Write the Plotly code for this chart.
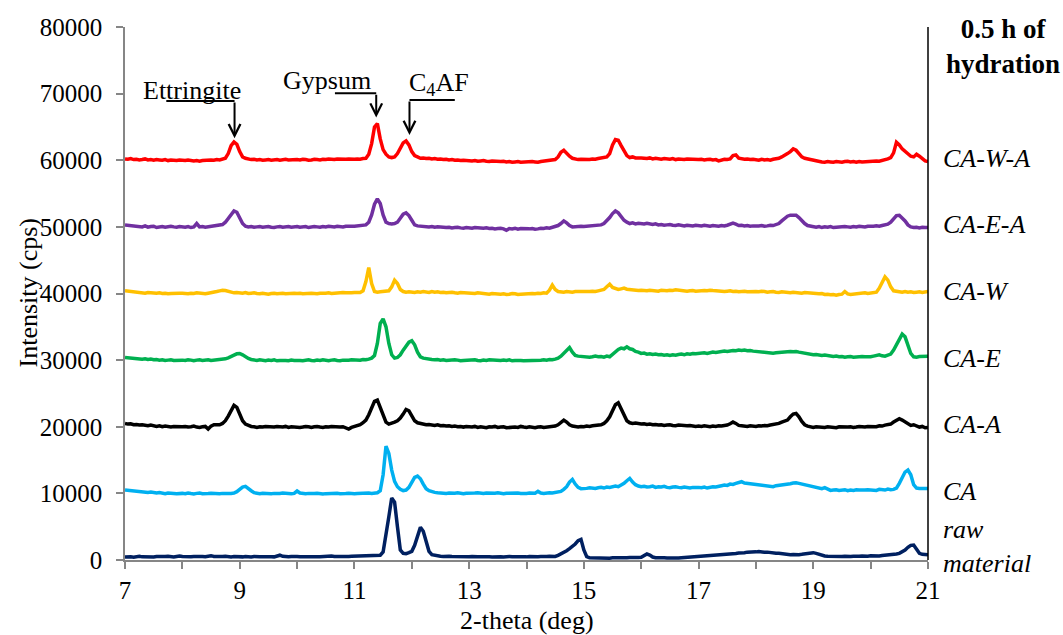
import plotly.graph_objects as go

# 2-theta scan: 7.00 to 21.00 deg, 0.05 deg step (one printed row per degree)
TWO_THETA_START = 7.0
TWO_THETA_STEP = 0.05
N_POINTS = 281

raw_material = [
    450, 520, 480, 430, 500, 560, 470, 440, 510, 480, 450, 530, 490, 460, 520, 560, 500, 470, 540, 600,
    520, 480, 450, 500, 540, 490, 460, 520, 480, 600, 650, 540, 500, 470, 520, 560, 490, 460, 520, 480,
    510, 470, 540, 490, 460, 530, 560, 500, 480, 520, 550, 490, 470, 640, 720, 560, 500, 480, 530, 560,
    510, 480, 540, 500, 470, 520, 560, 500, 480, 530, 490, 560, 600, 520, 500, 560, 590, 530, 510, 560,
    580, 540, 600, 650, 620, 580, 640, 700, 680, 720, 1200, 3500, 6500, 9300, 8700, 5000, 1500, 1000, 950, 1100,
    1300, 2200, 3800, 4900, 4300, 2800, 1300, 800, 700, 620, 580, 540, 600, 560, 520, 500, 550, 520, 480, 510,
    480, 520, 560, 500, 470, 510, 540, 490, 460, 500, 530, 480, 450, 510, 540, 480, 460, 500, 520, 490,
    470, 510, 480, 450, 500, 530, 490, 520, 560, 500, 540, 700, 900, 1100, 1400, 1700, 2000, 2400, 2900, 3100,
    1500, 500, 320, 300, 350, 320, 300, 340, 310, 280, 320, 300, 350, 330, 310, 340, 380, 350, 330, 370,
    400, 650, 900, 750, 450, 350, 300, 280, 320, 300, 280, 310, 330, 300, 350, 380, 360, 420, 450, 480,
    520, 560, 600, 580, 640, 700, 680, 740, 800, 780, 860, 920, 900, 980, 1050, 1020, 1100, 1180, 1150, 1250,
    1220, 1280, 1200, 1150, 1180, 1100, 1050, 1000, 1020, 950, 900, 850, 800, 820, 760, 800, 850, 900, 950, 1050,
    1100, 1000, 850, 700, 600, 550, 520, 560, 500, 480, 520, 560, 500, 540, 580, 520, 560, 600, 550, 580,
    620, 580, 640, 600, 680, 720, 700, 760, 820, 900, 1000, 1200, 1500, 1900, 2200, 2250, 1600, 1000, 850, 800,
    780,
]

ca = [
    10500, 10450, 10380, 10420, 10300, 10250, 10300, 10180, 10150, 10200, 10100, 10050, 10120, 10000, 9950, 10050, 10080, 9980, 9950, 10020,
    10000, 9950, 10050, 9980, 9920, 10000, 10050, 9950, 9900, 9980, 10020, 9960, 9900, 9950, 10000, 9970, 10020, 10000, 10050, 10250,
    10600, 10950, 11050, 10800, 10400, 10100, 10000, 9950, 10020, 9980, 9900, 9950, 10000, 9930, 9970, 10050, 9980, 9920, 9960, 10000,
    10350, 10050, 9980, 9950, 10000, 9920, 9970, 10020, 9950, 9900, 9960, 10000, 9940, 9980, 10020, 9960, 9920, 9980, 10030, 9970,
    9950, 9990, 10030, 9960, 10000, 10050, 10000, 10080, 10100, 10400, 12800, 17100, 16000, 13500, 11800, 11000, 10600, 10400, 10500, 10900,
    11600, 12400, 12600, 12200, 11400, 10700, 10400, 10250, 10150, 10100, 10050, 10100, 10000, 10050, 9980, 10020, 10080, 9990, 9950, 10030,
    10000, 9950, 10050, 10100, 10020, 9980, 10050, 10000, 9960, 10030, 10080, 10000, 9950, 10020, 10050, 9980, 10000, 10060, 10000, 9950,
    10000, 10050, 9980, 10020, 10300, 10050, 10000, 10080, 10100, 10050, 10150, 10200, 10300, 10600, 11000, 11700, 12100, 11400, 10900, 10700,
    10700, 10750, 10850, 10800, 10750, 10850, 10900, 10800, 10950, 10900, 11000, 11100, 11000, 11200, 11500, 11900, 12250, 11700, 11300, 11100,
    11000, 11050, 10950, 11000, 11100, 10900, 11000, 10950, 11050, 10900, 10850, 10950, 11000, 10900, 10850, 10950, 10900, 10800, 10900, 10950,
    10900, 10850, 10950, 10800, 10900, 11000, 10950, 11100, 11150, 11250, 11200, 11400, 11350, 11500, 11650, 11750, 11550, 11500, 11400, 11300,
    11300, 11200, 11150, 11100, 11050, 11100, 11000, 11150, 11200, 11300, 11250, 11400, 11450, 11550, 11600, 11500, 11400, 11300, 11200, 11100,
    11000, 10900, 10800, 10700, 10850, 10600, 10450, 10500, 10550, 10450, 10500, 10550, 10400, 10500, 10450, 10550, 10500, 10450, 10500, 10550,
    10500, 10550, 10450, 10600, 10550, 10500, 10650, 10550, 10600, 10800, 11500, 12500, 13200, 13500, 12800, 11300, 10800, 10750, 10800, 10750,
    10750,
]

ca_a = [
    20500, 20400, 20450, 20300, 20350, 20250, 20300, 20200, 20150, 20250, 20100, 20050, 20150, 20000, 20100, 20050, 19950, 20050, 20000, 19950,
    20000, 20050, 19950, 20000, 20100, 19950, 19900, 20000, 20050, 19650, 20100, 20300, 20350, 20300, 20500, 20900, 21600, 22500, 23200, 22900,
    21800, 20900, 20400, 20200, 20050, 20000, 19900, 20000, 19950, 20050, 20000, 19900, 19950, 20050, 20000, 19950, 20050, 19900, 20000, 19950,
    20000, 19900, 19950, 20050, 20000, 19900, 20000, 20050, 19950, 19900, 20000, 19950, 20050, 20000, 19900, 19950, 20000, 19850, 19650, 19900,
    20050, 20150, 20300, 20600, 21000, 21800, 22800, 23800, 24000, 23000, 21700, 20700, 20400, 20500, 20700, 20900, 21300, 21900, 22600, 22400,
    21500, 20900, 20600, 20500, 20400, 20300, 20350, 20250, 20200, 20300, 20150, 20200, 20100, 20150, 20050, 20100, 20000, 20050, 19950, 20050,
    20000, 19950, 20050, 19900, 20000, 19950, 19850, 20000, 19950, 20050, 19900, 19950, 20000, 19850, 19900, 20000, 19950, 19900, 20050, 19950,
    19900, 20000, 19950, 19850, 19950, 20000, 19900, 19950, 20000, 19950, 20100, 20300, 20600, 21000, 20700, 20300, 20100, 20000, 19950, 20050,
    20000, 20100, 20050, 20150, 20200, 20250, 20300, 20500, 20900, 21500, 22300, 23300, 23600, 22600, 21600, 20900, 20600, 20500, 20550, 20450,
    20400, 20450, 20350, 20400, 20300, 20350, 20250, 20300, 20200, 20250, 20300, 20200, 20150, 20250, 20200, 20100, 20150, 20200, 20100, 20050,
    20100, 20050, 20150, 20100, 20000, 20100, 20050, 20150, 20100, 20200, 20250, 20450, 20700, 20500, 20200, 20150, 20100, 20050, 20150, 20100,
    20050, 20150, 20100, 20200, 20150, 20250, 20300, 20400, 20500, 20700, 20800, 21000, 21500, 21900, 22000, 21500, 20800, 20300, 20100, 19950,
    19900, 20000, 19950, 19850, 19900, 20000, 19950, 19900, 19850, 20000, 19950, 19900, 19950, 20000, 19900, 19950, 20050, 20000, 19950, 20050,
    20050, 20100, 20000, 20150, 20100, 20250, 20300, 20400, 20700, 21000, 21200, 21000, 20700, 20400, 20200, 20300, 20100, 19950, 20050, 19850,
    19900,
]

ca_e = [
    30400, 30350, 30300, 30250, 30300, 30200, 30150, 30200, 30100, 30150, 30050, 30100, 30000, 30050, 29950, 30000, 30050, 29950, 30000, 30050,
    30000, 29950, 30050, 30000, 29900, 30000, 30050, 29950, 30000, 30050, 29950, 30000, 30100, 30050, 30150, 30200, 30350, 30500, 30750, 30950,
    31000, 30800, 30500, 30250, 30100, 30000, 29950, 30050, 29950, 29900, 30000, 29950, 30050, 29900, 29950, 30000, 29950, 29900, 30000, 29950,
    30000, 29950, 29900, 30000, 30050, 29950, 29900, 30000, 29950, 30050, 29950, 29900, 30000, 30050, 29950, 29900, 30000, 29950, 30000, 30050,
    30000, 30050, 30000, 30100, 30050, 30150, 30300, 30700, 32500, 35500, 36200, 35000, 32500, 30800, 30300, 30400, 30800, 31500, 32200, 32700,
    32900, 32300, 31200, 30500, 30300, 30200, 30150, 30100, 30050, 30100, 30000, 30050, 29950, 30000, 29950, 30050, 30000, 29900, 29950, 30000,
    29950, 30000, 30050, 29950, 29900, 30000, 29950, 30050, 30000, 29950, 29900, 29950, 30000, 29950, 30050, 29900, 29950, 30000, 29950, 29900,
    29900, 29950, 30000, 29950, 29900, 30000, 30050, 30000, 30100, 30050, 30150, 30300, 30600, 31100, 31500, 31900, 31200, 30700, 30600, 30550,
    30500, 30550, 30450, 30500, 30600, 30500, 30550, 30450, 30600, 30500, 30900, 31300, 31600, 31800, 31700, 32000, 31700, 31600, 31300, 31200,
    31000, 31050, 30900, 30950, 30850, 30900, 30800, 30850, 30750, 30800, 30700, 30800, 30750, 30850, 30900, 30800, 30950, 30900, 31000, 30950,
    31000, 31050, 31100, 31000, 31150, 31200, 31150, 31250, 31300, 31350, 31300, 31400, 31450, 31400, 31500, 31450, 31500, 31400, 31450, 31350,
    31300, 31250, 31200, 31150, 31100, 31150, 31050, 31100, 31150, 31200, 31150, 31250, 31300, 31250, 31300, 31200, 31100, 31000, 30950, 30900,
    30800, 30850, 30750, 30700, 30750, 30650, 30600, 30550, 30600, 30500, 30550, 30450, 30500, 30550, 30450, 30500, 30600, 30550, 30500, 30450,
    30500, 30600, 30700, 30800, 30650, 30600, 30750, 30900, 31500, 32400, 33300, 33900, 33500, 32300, 31000, 30500, 30450, 30550, 30600, 30550,
    30600,
]

ca_w = [
    40400, 40350, 40300, 40250, 40150, 40200, 40100, 40050, 40150, 40100, 40000, 40050, 40100, 40000, 40050, 39950, 40000, 40050, 40000, 40050,
    40050, 40000, 39950, 40050, 40000, 40100, 40050, 40000, 39950, 40050, 40100, 40200, 40300, 40400, 40500, 40450, 40300, 40200, 40100, 40150,
    40100, 40050, 40150, 40000, 40050, 40100, 40000, 39950, 40050, 40000, 39900, 40000, 40050, 39950, 40000, 40050, 39950, 40000, 40100, 40050,
    40000, 40050, 39950, 40000, 40100, 40050, 40000, 39950, 40050, 40000, 40050, 40100, 40000, 40050, 40100, 40050, 40150, 40100, 40050, 40100,
    40150, 40200, 40150, 40400, 41800, 43900, 41500, 40300, 40200, 40250, 40300, 40250, 40400, 41000, 42000, 41500, 40600, 40300, 40200, 40250,
    40200, 40150, 40250, 40200, 40300, 40250, 40150, 40300, 40200, 40250, 40150, 40200, 40100, 40150, 40200, 40100, 40050, 40150, 40100, 40050,
    40100, 40050, 40000, 40100, 40050, 39950, 40000, 39900, 40000, 39950, 39850, 39900, 39950, 39850, 39900, 40000, 39950, 39850, 39900, 39950,
    39900, 39950, 40000, 39950, 40050, 40000, 40100, 40050, 40500, 41250, 40600, 40300, 40250, 40200, 40300, 40250, 40200, 40300, 40250, 40300,
    40300, 40250, 40300, 40350, 40300, 40400, 40500, 40600, 41000, 41400, 40900, 40700, 40600, 40700, 40800, 40650, 40600, 40500, 40550, 40450,
    40500, 40450, 40400, 40500, 40450, 40400, 40350, 40500, 40450, 40400, 40500, 40450, 40550, 40500, 40400, 40450, 40350, 40400, 40450, 40350,
    40400, 40350, 40450, 40400, 40500, 40450, 40400, 40350, 40400, 40300, 40350, 40400, 40300, 40350, 40250, 40300, 40350, 40250, 40300, 40350,
    40300, 40250, 40350, 40300, 40200, 40250, 40300, 40200, 40150, 40250, 40200, 40150, 40100, 40200, 40150, 40100, 40050, 40150, 40100, 40050,
    40100, 40000, 39950, 40000, 39850, 39900, 39800, 39850, 39750, 39850, 39900, 40300, 39950, 39850, 39900, 40000, 39950, 40050, 40100, 40000,
    40100, 40150, 40200, 40800, 41800, 42500, 42000, 41000, 40400, 40300, 40250, 40200, 40300, 40200, 40250, 40150, 40200, 40250, 40150, 40250,
    40300,
]

ca_e_a = [
    50300, 50250, 50150, 50200, 50050, 50100, 50000, 50150, 49950, 50050, 50100, 49900, 50000, 50050, 49950, 50000, 50100, 50000, 49950, 50050,
    50000, 49950, 50050, 49900, 50000, 50500, 50000, 50050, 49950, 50000, 50050, 50100, 50200, 50200, 50350, 50700, 51200, 51900, 52400, 52200,
    51300, 50500, 50100, 50000, 50050, 49950, 50000, 50050, 49950, 50000, 50050, 49950, 49900, 50000, 50050, 49950, 50000, 50050, 49950, 50000,
    50050, 49950, 50000, 50050, 49900, 50000, 50050, 50000, 49950, 50050, 50000, 50100, 50050, 50000, 50100, 50050, 50000, 50100, 50050, 50100,
    50100, 50150, 50100, 50200, 50300, 50700, 51800, 53400, 54200, 53500, 51800, 50700, 50500, 50450, 50500, 50700, 51300, 51900, 52100, 51700,
    51000, 50300, 50150, 50100, 50050, 50100, 50000, 50050, 49950, 50000, 49950, 50000, 49900, 49950, 49850, 49900, 49950, 49850, 49800, 49900,
    49850, 49800, 49900, 49850, 49750, 49800, 49850, 49750, 49800, 49700, 49750, 49800, 49700, 49500, 49750, 49700, 49800, 49650, 49750, 49700,
    49650, 49700, 49750, 49650, 49700, 49800, 49750, 49850, 49800, 49900, 50000, 50200, 50500, 50900, 50600, 50200, 50000, 50050, 50000, 50100,
    50050, 50100, 50150, 50100, 50200, 50250, 50300, 50500, 50900, 51400, 52000, 52400, 52100, 51500, 51000, 50700, 50500, 50600, 50450, 50550,
    50500, 50450, 50550, 50400, 50350, 50450, 50300, 50350, 50250, 50300, 50350, 50250, 50200, 50300, 50250, 50150, 50250, 50200, 50150, 50250,
    50200, 50150, 50250, 50200, 50100, 50200, 50150, 50100, 50200, 50150, 50250, 50400, 50550, 50400, 50200, 50250, 50150, 50200, 50100, 50150,
    50100, 50150, 50200, 50100, 50150, 50250, 50200, 50300, 50500, 50900, 51300, 51600, 51750, 51700, 51750, 51400, 50900, 50500, 50200, 50100,
    50000, 49950, 50050, 49900, 50000, 49950, 50050, 49900, 49950, 50000, 49950, 50050, 50000, 49950, 50050, 50000, 50100, 50050, 50000, 50100,
    50050, 50100, 50150, 50100, 50200, 50250, 50400, 50700, 51200, 51700, 51750, 51400, 50900, 50300, 50000, 49900, 49950, 49850, 49950, 49900,
    49900,
]

ca_w_a = [
    60200, 60150, 60250, 60100, 60150, 60050, 60100, 60200, 60050, 60100, 60000, 60100, 60050, 60000, 60100, 59950, 60050, 60000, 59950, 60050,
    60000, 59950, 60050, 59950, 59900, 59950, 59850, 59950, 60000, 59950, 60050, 60000, 60100, 60050, 60150, 60300, 61000, 62200, 62750, 62400,
    61300, 60500, 60300, 60200, 60100, 60150, 60050, 60100, 60000, 60050, 60100, 60000, 60050, 60100, 60000, 60050, 60150, 60050, 60100, 60050,
    60100, 60050, 60150, 60100, 60000, 60050, 60150, 60100, 60050, 60150, 60100, 60200, 60150, 60100, 60200, 60150, 60100, 60150, 60200, 60150,
    60150, 60200, 60150, 60250, 60300, 60900, 62500, 65000, 65500, 63200, 61600, 60900, 60500, 60400, 60500, 61000, 61800, 62600, 62900, 62300,
    61300, 60700, 60500, 60300, 60350, 60250, 60300, 60200, 60250, 60150, 60200, 60100, 60150, 60050, 60100, 60000, 60050, 59950, 60000, 59950,
    60000, 59900, 59950, 59850, 59900, 59950, 59850, 59800, 59900, 59850, 59750, 59800, 59850, 59750, 59800, 59700, 59750, 59800, 59700, 59750,
    59700, 59750, 59800, 59750, 59700, 59800, 59850, 59900, 59950, 60050, 60100, 60500, 61200, 61500, 61000, 60600, 60300, 60200, 60100, 60150,
    60100, 60150, 60100, 60200, 60150, 60250, 60300, 60400, 60500, 61000, 62300, 63100, 63000, 62200, 61300, 60700, 60400, 60500, 60350, 60400,
    60350, 60300, 60250, 60350, 60200, 60300, 60250, 60150, 60250, 60200, 60150, 60250, 60100, 60200, 60150, 60100, 60200, 60150, 60100, 60150,
    60100, 60150, 60050, 60100, 60150, 60050, 60100, 59900, 60000, 60150, 60100, 60200, 60700, 60800, 60300, 60200, 60150, 60200, 60100, 60150,
    60100, 60000, 60150, 60050, 60100, 60000, 60150, 60200, 60300, 60500, 60700, 61000, 61300, 61700, 61500, 60900, 60500, 60300, 60200, 60050,
    60000, 59900, 59800, 59750, 59700, 59800, 59750, 59700, 59800, 59750, 59700, 59800, 59850, 59750, 59800, 59700, 59800, 59750, 59800, 59850,
    59800, 59850, 59900, 59850, 59950, 60050, 60200, 60400, 61100, 62700, 62300, 61700, 61300, 61000, 60600, 60500, 60900, 60600, 60200, 59900,
    59800,
]

series_names = ["raw material", "CA", "CA-A", "CA-E", "CA-W", "CA-E-A", "CA-W-A"]
series_values = [raw_material, ca, ca_a, ca_e, ca_w, ca_e_a, ca_w_a]
series_colors = ["#002060", "#00B0F0", "#000000", "#00B050", "#FFC000", "#7030A0", "#FF0000"]
# vertical position of each right-hand label (cps)
label_levels = [2000, 10300, 20300, 30300, 40300, 50300, 60300]

for name, vals in zip(series_names, series_values):
    if len(vals) != N_POINTS:
        raise ValueError(f"{name}: {len(vals)} points, expected {N_POINTS}")

two_theta = [round(TWO_THETA_START + TWO_THETA_STEP * i, 2) for i in range(N_POINTS)]

# peak markers: label, peak position, tip height, bar start/end, bar height, text anchor
peak_labels = ["Ettringite", "Gypsum", "C<sub>4</sub>AF"]
peak_positions = [8.91, 11.38, 11.96]
peak_tips = [63300, 66400, 63800]
bar_from = [7.72, 10.66, 11.96]
bar_to = [8.91, 11.38, 12.75]
bar_level = [68900, 70050, 69050]
text_x = [8.17, 10.53, 12.47]
text_y = [70400, 71900, 71400]

x_tick_vals = list(range(7, 22))
x_tick_text = [str(v) if v % 2 == 1 else "" for v in x_tick_vals]

SERIF = "Liberation Serif, Times New Roman, serif"
AXIS_GREY = "#868686"

fig = go.Figure()
for name, vals, color in zip(series_names, series_values, series_colors):
    fig.add_trace(go.Scatter(
        x=two_theta, y=vals, mode="lines", name=name,
        line=dict(color=color, width=3.5), showlegend=False,
    ))

annotations = []
shapes = []
for lab, px, tip, x0, x1, yb, tx, ty in zip(peak_labels, peak_positions, peak_tips,
                                             bar_from, bar_to, bar_level, text_x, text_y):
    annotations.append(dict(x=tx, y=ty, xref="x", yref="y", text=lab, showarrow=False,
                            font=dict(family=SERIF, size=26, color="black")))
    shapes.append(dict(type="line", xref="x", yref="y", x0=x0, x1=x1, y0=yb, y1=yb,
                       line=dict(color="black", width=2)))
    annotations.append(dict(x=px, y=tip, xref="x", yref="y", ax=px, ay=yb,
                            axref="x", ayref="y", text="", showarrow=True,
                            arrowhead=5, arrowsize=1.15, arrowwidth=2, arrowcolor="black",
                            standoff=0))

for name, level in zip(series_names, label_levels):
    txt = "raw<br>material" if name == "raw material" else name
    annotations.append(dict(x=1, y=level, xref="paper", yref="y", xshift=13,
                            xanchor="left", yanchor="middle", text=f"<i>{txt}</i>",
                            showarrow=False, align="left",
                            font=dict(family=SERIF, size=26, color="black")))

annotations.append(dict(x=1, y=1, xref="paper", yref="paper", xshift=75, yshift=15,
                        xanchor="center", yanchor="top", text="<b>0.5 h of<br>hydration</b>",
                        showarrow=False, align="center",
                        font=dict(family=SERIF, size=27, color="black")))

# axis titles
annotations.append(dict(x=0, y=0.5, xref="paper", yref="paper", xshift=-97,
                        xanchor="center", yanchor="middle", text="Intensity (cps)",
                        textangle=-90, showarrow=False,
                        font=dict(family=SERIF, size=26, color="black")))
annotations.append(dict(x=0.5, y=0, xref="paper", yref="paper", yshift=-60,
                        xanchor="center", yanchor="middle", text="2-theta (deg)",
                        showarrow=False,
                        font=dict(family=SERIF, size=26, color="black")))

# right-hand frame line
shapes.append(dict(type="line", xref="paper", yref="paper", x0=1, x1=1, y0=0, y1=1,
                   line=dict(color="black", width=1.5)))

fig.update_layout(
    width=1063, height=635,
    margin=dict(l=125, r=135, t=27, b=75),
    paper_bgcolor="white", plot_bgcolor="white",
    font=dict(family=SERIF, color="black"),
    annotations=annotations, shapes=shapes,
    xaxis=dict(
        range=[7, 21], tickvals=x_tick_vals, ticktext=x_tick_text, automargin=False,
        showgrid=False, zeroline=False, showline=True, linecolor=AXIS_GREY, linewidth=1.5,
        ticks="outside", ticklen=7, tickcolor=AXIS_GREY, tickwidth=1.5,
        tickfont=dict(family=SERIF, size=25, color="black"), ticklabelstandoff=0,
    ),
    yaxis=dict(
        range=[0, 80000], tickvals=list(range(0, 80001, 10000)), tickformat="d",
        automargin=False,
        showgrid=False, zeroline=False, showline=True, linecolor=AXIS_GREY, linewidth=1.5,
        ticks="outside", ticklen=7, tickcolor=AXIS_GREY, tickwidth=1.5,
        tickfont=dict(family=SERIF, size=25, color="black"), ticklabelstandoff=9,
    ),
)

fig.write_html("out.html")
